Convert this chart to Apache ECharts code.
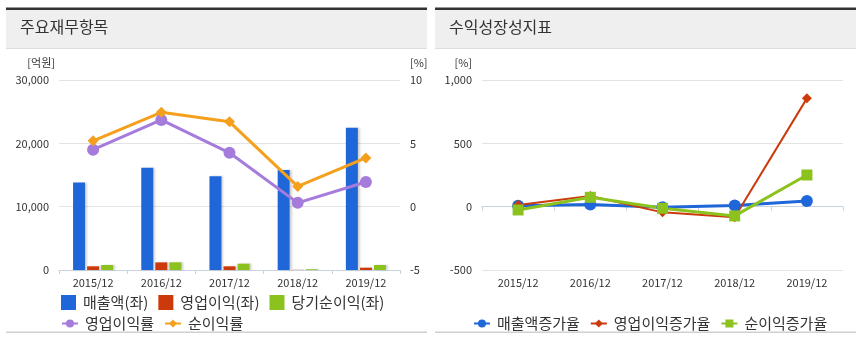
<!DOCTYPE html>
<html><head><meta charset="utf-8">
<script src="https://cdn.jsdelivr.net/npm/echarts@6/dist/echarts.min.js"></script>
<style>html,body{margin:0;padding:0;background:#fff}#c{width:860px;height:340px}</style>
</head><body><div id="c"></div>
<script>
const categories = ['2015/12','2016/12','2017/12','2018/12','2019/12'];
const revenue   = [13800, 16150, 14800, 15800, 22450];
const opIncome  = [580, 1200, 580, 30, 360];
const netIncome = [790, 1210, 1000, 120, 790];
const opMargin  = [4.5, 6.85, 4.25, 0.3, 1.95];
const netMargin = [5.2, 7.45, 6.7, 1.6, 3.85];
const revGrowth = [8, 17, -5, 9, 45];
const opGrowth  = [13, 84, -45, -84, 855];
const netGrowth = [-26, 74, -13, -73, 250];
const leftAxis  = {min: 0, max: 30000, interval: 10000};
const rightAxis = {min: -5, max: 10, interval: 5};
const growthAxis = {min: -500, max: 1000, interval: 500};

const FONT = 'Noto Sans CJK KR';
const C = {blue:'#1f66d8', red:'#cc3a0c', green:'#8cc21e', purple:'#a57bdc', orange:'#f5a01c'};

const chart = echarts.init(document.getElementById('c'));
function panel(x, w, title) {
  return [
    {type:'rect', shape:{x:x, y:10, width:w, height:38}, style:{fill:'#efefef'}, silent:true},
    {type:'rect', shape:{x:x, y:7.5, width:w, height:2.5}, style:{fill:'#333'}, silent:true},
    {type:'rect', shape:{x:x, y:48, width:w, height:1}, style:{fill:'#dddddd'}, silent:true},
    {type:'rect', shape:{x:x, y:331.5, width:w, height:1.5}, style:{fill:'#d0d0d0'}, silent:true},
    {type:'text', left:x+14, top:19, style:{text:title, font:'16px "'+FONT+'"', fill:'#333'}, silent:true}
  ];
}
const axisLbl = {fontFamily: FONT, fontSize: 11, color: '#333'};
const xAxisBase = {
  type:'category', data: categories, boundaryGap:true,
  axisLine:{lineStyle:{color:'#c9d3df'}},
  axisTick:{show:true, length:4, lineStyle:{color:'#c9d3df'}},
  axisLabel:Object.assign({margin:7}, axisLbl)
};
const split = {lineStyle:{color:'#e3e3e3'}};
const barStyle = c => ({color:c, shadowColor:'rgba(0,0,0,0.18)', shadowOffsetX:2, shadowBlur:2});
const legText = {fontFamily:FONT, fontSize:15, color:'#333', padding:[0,0,0,2]};

chart.setOption({
  animation:false,
  textStyle:{fontFamily:FONT},
  graphic: panel(6, 421, '주요재무항목').concat(panel(435, 421, '수익성장성지표')),
  grid:[
    {left:59, right:460, top:80, bottom:70},
    {left:482, right:17, top:80, bottom:70}
  ],
  xAxis:[
    Object.assign({gridIndex:0}, xAxisBase),
    Object.assign({gridIndex:1}, xAxisBase)
  ],
  yAxis:[
    Object.assign({gridIndex:0, type:'value', name:'[억원]', nameGap:12,
      nameTextStyle:{fontFamily:FONT, fontSize:11, color:'#333', align:'right', padding:[0,4,0,0]},
      axisLine:{show:false}, axisTick:{show:false}, splitLine:split,
      axisLabel:Object.assign({margin:10}, axisLbl)}, leftAxis),
    Object.assign({gridIndex:0, type:'value', position:'right', name:'[%]', nameGap:12,
      nameTextStyle:{fontFamily:FONT, fontSize:11, color:'#333', align:'left', padding:[0,0,0,10]},
      axisLine:{show:false}, axisTick:{show:false}, splitLine:{show:false},
      axisLabel:Object.assign({margin:10}, axisLbl)}, rightAxis),
    Object.assign({gridIndex:1, type:'value', name:'[%]', nameGap:12,
      nameTextStyle:{fontFamily:FONT, fontSize:11, color:'#333', align:'right', padding:[0,10,0,0]},
      axisLine:{show:false}, axisTick:{show:false}, splitLine:split,
      axisLabel:Object.assign({margin:10}, axisLbl)}, growthAxis)
  ],
  legend:[
    {left:56, top:290, itemWidth:15, itemHeight:15, itemGap:10, textStyle:legText,
     data:[{name:'매출액(좌)',icon:'rect'},{name:'영업이익(좌)',icon:'rect'},{name:'당기순이익(좌)',icon:'rect'}]},
    {left:56, top:311, itemWidth:16, itemHeight:10, itemGap:10, textStyle:legText,
     data:['영업이익률','순이익률']},
    {left:468, top:311, itemWidth:16, itemHeight:10, itemGap:10, textStyle:legText,
     data:['매출액증가율','영업이익증가율','순이익증가율']}
  ],
  series:[
    {name:'매출액(좌)', type:'bar', xAxisIndex:0, yAxisIndex:0, barWidth:12, barGap:'17%', data:revenue, itemStyle:barStyle(C.blue)},
    {name:'영업이익(좌)', type:'bar', xAxisIndex:0, yAxisIndex:0, barWidth:12, barGap:'17%', data:opIncome, itemStyle:barStyle(C.red)},
    {name:'당기순이익(좌)', type:'bar', xAxisIndex:0, yAxisIndex:0, barWidth:12, barGap:'17%', data:netIncome, itemStyle:barStyle(C.green)},
    {name:'영업이익률', type:'line', xAxisIndex:0, yAxisIndex:1, data:opMargin, symbol:'circle', symbolSize:12,
     lineStyle:{color:C.purple, width:3}, itemStyle:{color:C.purple}},
    {name:'순이익률', type:'line', xAxisIndex:0, yAxisIndex:1, data:netMargin, symbol:'diamond', symbolSize:11,
     lineStyle:{color:C.orange, width:3}, itemStyle:{color:C.orange}},
    {name:'매출액증가율', type:'line', xAxisIndex:1, yAxisIndex:2, data:revGrowth, symbol:'circle', symbolSize:12,
     lineStyle:{color:C.blue, width:3}, itemStyle:{color:C.blue}},
    {name:'영업이익증가율', type:'line', xAxisIndex:1, yAxisIndex:2, data:opGrowth, symbol:'diamond', symbolSize:10,
     lineStyle:{color:C.red, width:2}, itemStyle:{color:C.red}},
    {name:'순이익증가율', type:'line', xAxisIndex:1, yAxisIndex:2, data:netGrowth, symbol:'rect', symbolSize:11,
     lineStyle:{color:C.green, width:3}, itemStyle:{color:C.green}}
  ]
});
</script></body></html>
